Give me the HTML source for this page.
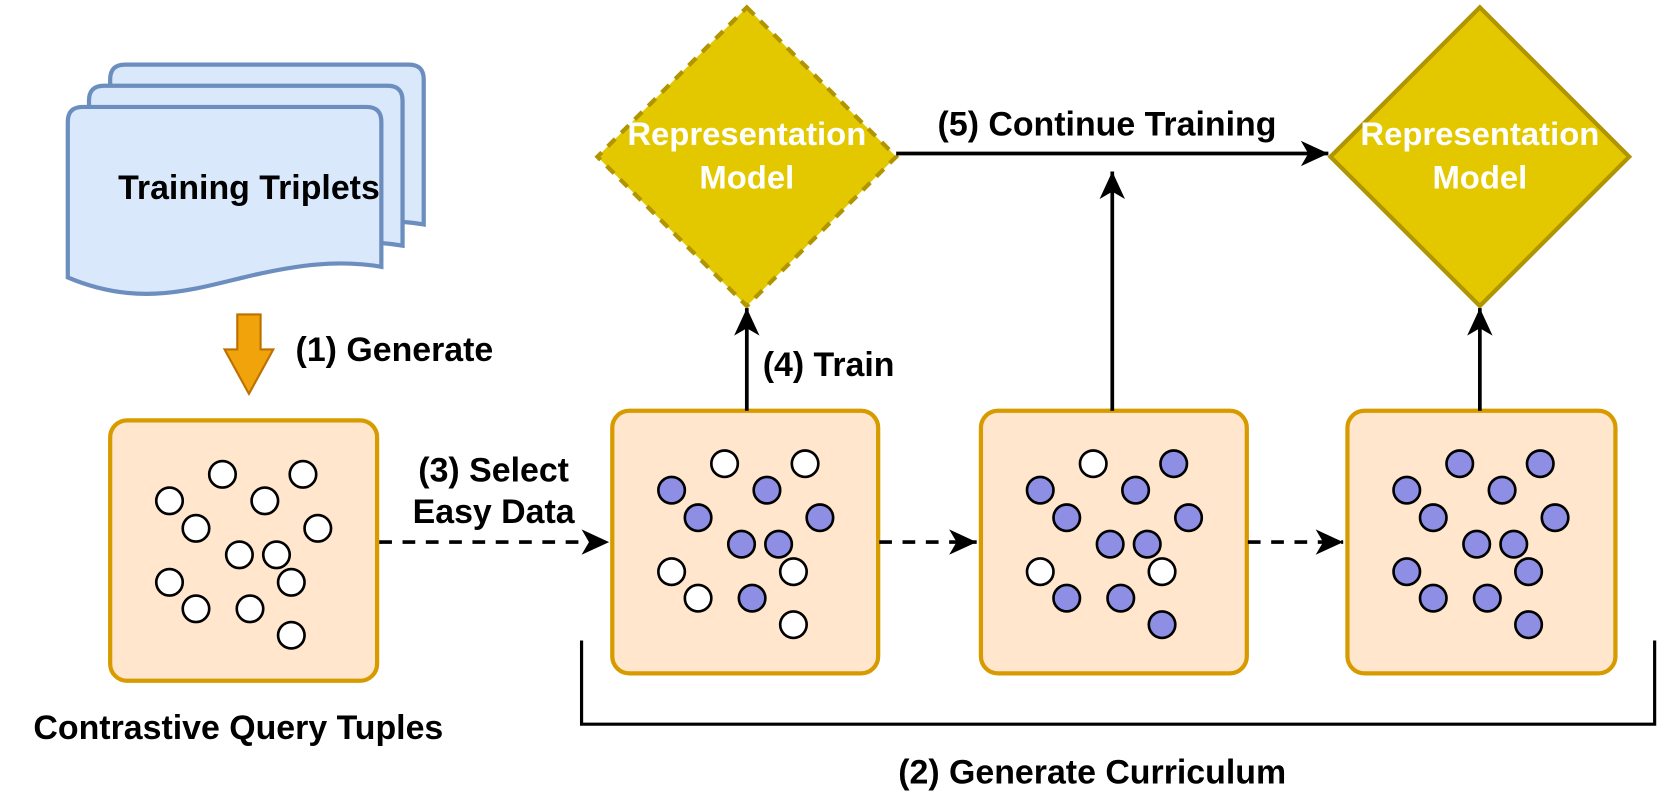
<!DOCTYPE html>
<html><head><meta charset="utf-8"><style>html,body{margin:0;padding:0;background:#fff}svg{display:block}</style></head>
<body>
<svg width="1661" height="811" viewBox="0 0 1568 766" preserveAspectRatio="none" xmlns="http://www.w3.org/2000/svg" font-family="Liberation Sans, Arial, sans-serif" font-weight="bold">
<defs>
<marker id="ah" markerUnits="userSpaceOnUse" markerWidth="30" markerHeight="26" refX="26" refY="13" orient="auto">
<path d="M0,1 L26,13 L0,25 L7,13 Z" fill="#000"/>
</marker>
</defs>
<!-- doc stack -->
<g fill="#dae8fc" stroke="#6c8ebf" stroke-width="4">
<path transform="translate(40,-40)" d="M64,262 V115 Q64,101 78,101 H346 Q360,101 360,115 V252 C320,245 280,250 230,262 C180,274 130,290 64,262 Z"/>
<path transform="translate(20,-20)" d="M64,262 V115 Q64,101 78,101 H346 Q360,101 360,115 V252 C320,245 280,250 230,262 C180,274 130,290 64,262 Z"/>
<path d="M64,262 V115 Q64,101 78,101 H346 Q360,101 360,115 V252 C320,245 280,250 230,262 C180,274 130,290 64,262 Z"/>
</g>
<text x="235" y="188" font-size="32" text-anchor="middle">Training Triplets</text>
<!-- orange arrow -->
<path d="M224,297 H246 V330 H258 L235,372 L212,330 H224 Z" fill="#f0a30a" stroke="#bd7000" stroke-width="2"/>
<text x="279" y="341" font-size="32">(1) Generate</text>
<!-- boxes -->
<g fill="#ffe6cc" stroke="#d79b00" stroke-width="4">
<rect x="104" y="397" width="252" height="246" rx="16"/>
<rect x="578" y="388" width="251" height="248" rx="16"/>
<rect x="926" y="388" width="251" height="248" rx="16"/>
<rect x="1272" y="388" width="253" height="248" rx="16"/>
</g>
<g stroke="#000" stroke-width="2.5">
<g fill="#fff" transform="translate(104,398)">
<circle cx="106" cy="50" r="12.5"/><circle cx="182" cy="50" r="12.5"/><circle cx="56" cy="75" r="12.5"/><circle cx="146" cy="75" r="12.5"/><circle cx="81" cy="101" r="12.5"/><circle cx="196" cy="101" r="12.5"/><circle cx="122" cy="126" r="12.5"/><circle cx="157" cy="126" r="12.5"/><circle cx="56" cy="152" r="12.5"/><circle cx="171" cy="152" r="12.5"/><circle cx="81" cy="177" r="12.5"/><circle cx="132" cy="177" r="12.5"/><circle cx="171" cy="202" r="12.5"/>
</g>
<g transform="translate(578,388)">
<circle cx="106" cy="50" r="12.5" fill="#fff"/><circle cx="182" cy="50" r="12.5" fill="#fff"/><circle cx="56" cy="75" r="12.5" fill="#8e8ee5"/><circle cx="146" cy="75" r="12.5" fill="#8e8ee5"/><circle cx="81" cy="101" r="12.5" fill="#8e8ee5"/><circle cx="196" cy="101" r="12.5" fill="#8e8ee5"/><circle cx="122" cy="126" r="12.5" fill="#8e8ee5"/><circle cx="157" cy="126" r="12.5" fill="#8e8ee5"/><circle cx="56" cy="152" r="12.5" fill="#fff"/><circle cx="171" cy="152" r="12.5" fill="#fff"/><circle cx="81" cy="177" r="12.5" fill="#fff"/><circle cx="132" cy="177" r="12.5" fill="#8e8ee5"/><circle cx="171" cy="202" r="12.5" fill="#fff"/>
</g>
<g transform="translate(926,388)">
<circle cx="106" cy="50" r="12.5" fill="#fff"/><circle cx="182" cy="50" r="12.5" fill="#8e8ee5"/><circle cx="56" cy="75" r="12.5" fill="#8e8ee5"/><circle cx="146" cy="75" r="12.5" fill="#8e8ee5"/><circle cx="81" cy="101" r="12.5" fill="#8e8ee5"/><circle cx="196" cy="101" r="12.5" fill="#8e8ee5"/><circle cx="122" cy="126" r="12.5" fill="#8e8ee5"/><circle cx="157" cy="126" r="12.5" fill="#8e8ee5"/><circle cx="56" cy="152" r="12.5" fill="#fff"/><circle cx="171" cy="152" r="12.5" fill="#fff"/><circle cx="81" cy="177" r="12.5" fill="#8e8ee5"/><circle cx="132" cy="177" r="12.5" fill="#8e8ee5"/><circle cx="171" cy="202" r="12.5" fill="#8e8ee5"/>
</g>
<g fill="#8e8ee5" transform="translate(1272,388)">
<circle cx="106" cy="50" r="12.5"/><circle cx="182" cy="50" r="12.5"/><circle cx="56" cy="75" r="12.5"/><circle cx="146" cy="75" r="12.5"/><circle cx="81" cy="101" r="12.5"/><circle cx="196" cy="101" r="12.5"/><circle cx="122" cy="126" r="12.5"/><circle cx="157" cy="126" r="12.5"/><circle cx="56" cy="152" r="12.5"/><circle cx="171" cy="152" r="12.5"/><circle cx="81" cy="177" r="12.5"/><circle cx="132" cy="177" r="12.5"/><circle cx="171" cy="202" r="12.5"/>
</g>
</g>
<!-- diamonds -->
<path d="M705,7 L846,148 L705,289 L564,148 Z" fill="#e3c800" stroke="#b09500" stroke-width="4" stroke-dasharray="10 8"/>
<path d="M1397,7 L1538,148 L1397,289 L1256,148 Z" fill="#e3c800" stroke="#b09500" stroke-width="4"/>
<g fill="#fff" font-size="31" text-anchor="middle">
<text x="705" y="137">Representation</text><text x="705" y="178">Model</text>
<text x="1397" y="137">Representation</text><text x="1397" y="178">Model</text>
</g>
<!-- connectors -->
<g stroke="#000" stroke-width="3.5" fill="none">
<line x1="846" y1="145" x2="1254" y2="145" marker-end="url(#ah)"/>
<line x1="705" y1="388" x2="705" y2="291" marker-end="url(#ah)"/>
<line x1="1050" y1="388" x2="1050" y2="162" marker-end="url(#ah)"/>
<line x1="1397" y1="388" x2="1397" y2="291" marker-end="url(#ah)"/>
<line x1="358" y1="512" x2="575" y2="512" stroke-dasharray="12 10" marker-end="url(#ah)"/>
<line x1="830" y1="512" x2="922" y2="512" stroke-dasharray="12 10" marker-end="url(#ah)"/>
<line x1="1178" y1="512" x2="1268" y2="512" stroke-dasharray="12 10" marker-end="url(#ah)"/>
<polyline points="549,605 549,684 1562,684 1562,605" stroke-width="3"/>
</g>
<g font-size="32" fill="#000">
<text x="1045" y="128" text-anchor="middle">(5) Continue Training</text>
<text x="720" y="355">(4) Train</text>
<text x="466" y="455" text-anchor="middle">(3) Select</text>
<text x="466" y="494" text-anchor="middle">Easy Data</text>
<text x="225" y="698" text-anchor="middle">Contrastive Query Tuples</text>
<text x="1031" y="740" text-anchor="middle">(2) Generate Curriculum</text>
</g>
</svg>
</body></html>
